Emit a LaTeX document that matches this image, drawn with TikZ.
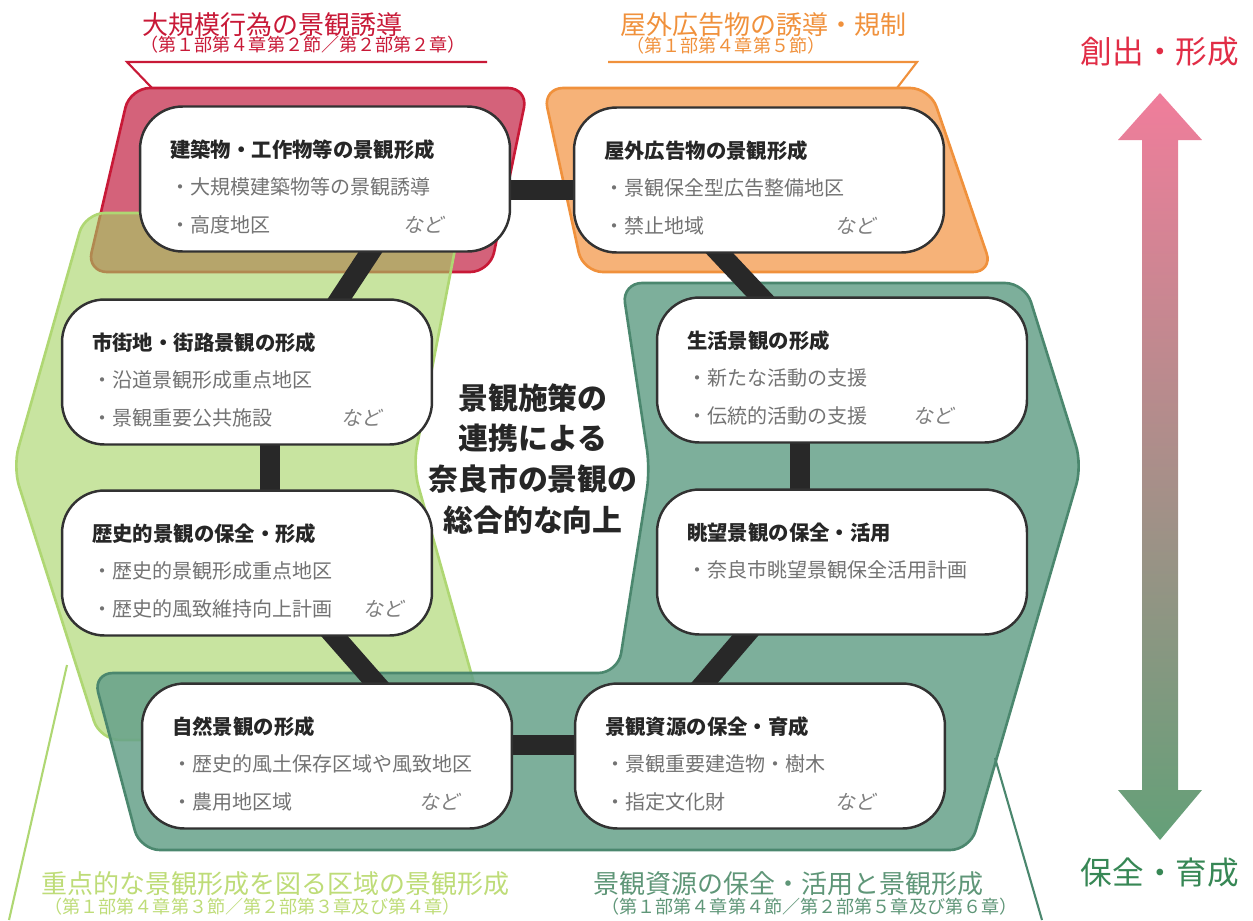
\documentclass[tikz,border=0pt]{standalone}
\usepackage{fontspec}
\setmainfont{Noto Sans CJK JP}
\newfontfamily\slantjp[FakeSlant=0.2]{Noto Sans CJK JP}
\usetikzlibrary{calc,backgrounds}

\begin{document}
\begin{tikzpicture}[x=0.02cm,y=-0.02cm,
    box/.style={draw=boxline,line width=1.4pt,fill=white,rounded corners=0.85cm,
      minimum width=7.4cm,minimum height=2.9cm},
    ttl/.style={anchor=west,inner sep=0pt,text=black!85,
      font=\bfseries\fontsize{11.6}{14}\selectfont},
    itm/.style={anchor=west,inner sep=0pt,text=black!55,
      font=\fontsize{11.4}{14}\selectfont},
    nado/.style={anchor=east,inner sep=0pt,text=black!50,
      font=\slantjp\fontsize{11.4}{14}\selectfont},
    link/.style={draw=linkgray,line width=0.4cm,shorten <=-0.3cm,shorten >=-0.3cm},
    zone/.style={line width=1.5pt,rounded corners=0.4cm},
    head/.style={inner sep=0pt,font=\fontsize{14.8}{16}\selectfont},
    sub/.style={inner sep=0pt,font=\fontsize{10.3}{12}\selectfont}]
    \definecolor{boxline}{RGB}{50,50,50}
    \definecolor{linkgray}{RGB}{40,40,40}
    \definecolor{redline}{RGB}{200,25,55}
    \definecolor{redfill}{RGB}{212,98,122}
    \definecolor{orgline}{RGB}{240,145,60}
    \definecolor{orgfill}{RGB}{246,178,120}
    \definecolor{grnline}{RGB}{175,215,115}
    \definecolor{grnfill}{RGB}{163,210,97}
    \definecolor{grntext}{RGB}{190,220,120}
    \definecolor{tealline}{RGB}{75,135,110}
    \definecolor{tealfill}{RGB}{102,161,138}
    \definecolor{tealtext}{RGB}{95,150,120}
    \definecolor{arrtop}{RGB}{240,125,155}
    \definecolor{arrmid}{RGB}{175,145,145}
    \definecolor{arrbot}{RGB}{100,160,120}
    \useasboundingbox (0,0) rectangle (1253,920);

    % areas behind the boxes
    \begin{pgfonlayer}{background}
    \draw[zone,draw=redline,fill=redfill] (130,88) -- (528,88) -- (490,272) -- (87,272) -- cycle;
    \draw[zone,draw=orgline,fill=orgfill] (543,88) -- (930,88) -- (993,272) -- (583,272) -- cycle;
    \draw[zone,draw=grnline,fill=grnfill,fill opacity=0.6]
      (85,213) -- (462,213) -- (413,467) -- (490,740) -- (100,740) -- (13,467) -- cycle;
    \draw[zone,draw=tealline,fill=tealfill,fill opacity=0.85]
      (622,283) -- (1025,283) -- (1082,465) -- (970,850) -- (140,850) -- (93,673)
      -- (618,673) -- (650,470) -- cycle;
    \end{pgfonlayer}

    % callouts
    \draw[redline,line width=1.2pt] (487,62) -- (127,62) -- (152,88);
    \draw[orgline,line width=1.2pt] (608,62) -- (917,62) -- (897,88);
    \draw[grnline,line width=1.2pt] (67,665) -- (9,920);
    \draw[tealline,line width=1.2pt] (995,758) -- (1042,920);
    \node[head,text=redline,anchor=west] (redhead) at (142,25) {大規模行為の景観誘導};
    \node[sub,text=redline,anchor=west] (redsub) at (140,45) {（第１部第４章第２節／第２部第２章）};
    \node[head,text=orgline,anchor=west] (orghead) at (620,25) {屋外広告物の誘導・規制};
    \node[sub,text=orgline,anchor=west] (orgsub) at (626,46) {（第１部第４章第５節）};
    \node[head,text=grntext,anchor=west] (grnhead) at (41,884) {重点的な景観形成を図る区域の景観形成};
    \node[sub,text=grntext,anchor=west] (grnsub) at (44,907) {（第１部第４章第３節／第２部第３章及び第４章）};
    \node[head,text=tealtext,anchor=west] (tealhead) at (593,884) {景観資源の保全・活用と景観形成};
    \node[sub,text=tealtext,anchor=west] (tealsub) at (601,907) {（第１部第４章第４節／第２部第５章及び第６章）};

    % boxes
    \foreach \n/\cx/\cy/\t/\a/\b/\e in {
      kenchiku/325/179/建築物・工作物等の景観形成/・大規模建築物等の景観誘導/・高度地区/305,
      okugai/759/180/屋外広告物の景観形成/・景観保全型広告整備地区/・禁止地域/303,
      shigaichi/247/372/市街地・街路景観の形成/・沿道景観形成重点地区/・景観重要公共施設/321,
      rekishi/247/563/歴史的景観の保全・形成/・歴史的景観形成重点地区/・歴史的風致維持向上計画/343,
      seikatsu/842/370/生活景観の形成/・新たな活動の支援/・伝統的活動の支援/298,
      shizen/327/756/自然景観の形成/・歴史的風土保存区域や風致地区/・農用地区域/319,
      shigen/760/756/景観資源の保全・育成/・景観重要建造物・樹木/・指定文化財/302}
    {
      \node[box] (\n) at (\cx,\cy) {};
      \node[ttl] at ($(\n.west)+(31,-29)$) {\t};
      \node[itm] at ($(\n.west)+(31,8)$) {\a};
      \node[itm] at ($(\n.west)+(31,46)$) {\b};
      \node[nado] at ($(\n.west)+(\e,46)$) {など};
    }
    \node[box] (chobo) at (842,562) {};
    \node[ttl] at ($(chobo.west)+(31,-29)$) {眺望景観の保全・活用};
    \node[itm] at ($(chobo.west)+(31,8)$) {・奈良市眺望景観保全活用計画};

    \node[align=center,text=black!85,font=\bfseries\fontsize{17}{23.3}\selectfont] (center) at (533,459)
      {景観施策の\\連携による\\奈良市の景観の\\総合的な向上};

    % ring of links
    \begin{pgfonlayer}{background}
    \draw[link] ([yshift=-0.22cm]kenchiku.east) -- ([yshift=-0.2cm]okugai.west);
    \draw[link] ([xshift=-0.78cm]okugai.south) -- ([xshift=-1.64cm]seikatsu.north);
    \draw[link] ([xshift=-0.84cm]seikatsu.south) -- ([xshift=-0.84cm]chobo.north);
    \draw[link] ([xshift=-1.94cm]chobo.south) -- ([xshift=-1.1cm]shigen.north);
    \draw[link] ([yshift=0.22cm]shigen.west) -- ([yshift=0.22cm]shizen.east);
    \draw[link] ([xshift=0.96cm]shizen.north) -- ([xshift=1.76cm]rekishi.south);
    \draw[link] ([xshift=0.46cm]rekishi.north) -- ([xshift=0.46cm]shigaichi.south);
    \draw[link] ([xshift=1.86cm]shigaichi.north) -- ([xshift=0.9cm]kenchiku.south);
    \end{pgfonlayer}

    % scale arrow
    \shade[top color=arrtop,middle color=arrmid,bottom color=arrbot]
      (1160,93) -- (1202,140) -- (1178,140) -- (1178,790) -- (1202,790) -- (1160,840)
      -- (1118,790) -- (1142,790) -- (1142,140) -- (1118,140) -- cycle;
    \node[font=\fontsize{18}{20}\selectfont,text={rgb,255:red,225;green,45;blue,70}] (sousyutsu) at (1160,52) {創出・形成};
    \node[font=\fontsize{18}{20}\selectfont,text={rgb,255:red,55;green,135;blue,85}] (hozen) at (1160,873) {保全・育成};
\end{tikzpicture}
\end{document}
